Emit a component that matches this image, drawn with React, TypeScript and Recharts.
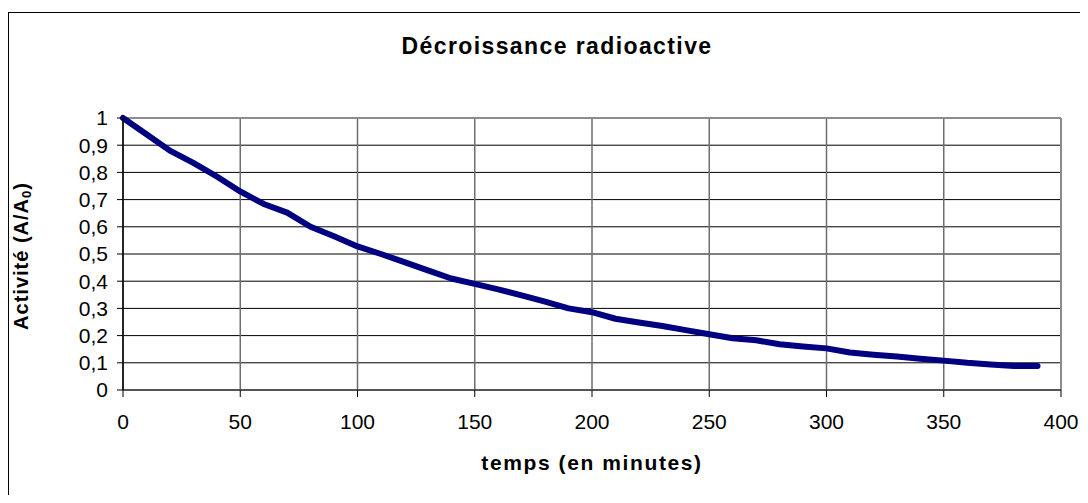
import React from "react"
import {
  CartesianGrid,
  Label,
  Line,
  LineChart,
  ReferenceLine,
  XAxis,
  YAxis,
} from "recharts"

const FONT = "'Liberation Sans', Arial, sans-serif"

// temps en minutes
const TIMES = [
  0, 10, 20, 30, 40, 50, 60, 70, 80, 90, 100, 110, 120, 130, 140, 150, 160, 170, 180, 190, 200,
  210, 220, 230, 240, 250, 260, 270, 280, 290, 300, 310, 320, 330, 340, 350, 360, 370, 380, 390,
]
// activité relative A/A0
const ACTIVITY = [
  1.0, 0.94, 0.88, 0.835, 0.785, 0.73, 0.684, 0.652, 0.6, 0.565, 0.528, 0.5, 0.47, 0.44, 0.41,
  0.39, 0.37, 0.348, 0.325, 0.3, 0.286, 0.262, 0.248, 0.235, 0.22, 0.205, 0.19, 0.183, 0.168,
  0.16, 0.153, 0.138, 0.13, 0.123, 0.115, 0.108, 0.1, 0.094, 0.088, 0.088,
]
const X_TICKS = [0, 50, 100, 150, 200, 250, 300, 350, 400]
const Y_TICKS = [0, 0.1, 0.2, 0.3, 0.4, 0.5, 0.6, 0.7, 0.8, 0.9, 1]

const data = TIMES.map((t, i) => ({ t, a: ACTIVITY[i] }))

// "0.3" -> "0,3"
const frNumber = (v: number) => String(Math.round(v * 10) / 10).replace(".", ",")

function YTitle(props: any) {
  const vb = props.viewBox
  const cx = 13
  const cy = vb && vb.height ? vb.y + vb.height / 2 + 2 : 255
  return (
    <text
      x={cx}
      y={cy}
      transform={`rotate(-90 ${cx} ${cy})`}
      textAnchor="middle"
      dominantBaseline="central"
      fontFamily={FONT}
      fontWeight="bold"
      fontSize={20}
      letterSpacing={1}
      fill="#000"
    >
      Activité (A/A
      <tspan fontSize={13} dy={5}>
        0
      </tspan>
      <tspan dy={-5}>)</tspan>
    </text>
  )
}

export default function App() {
  return (
    <div
      style={{
        position: "relative",
        marginTop: 4,
        width: 1080,
        height: 483,
        borderTop: "1px solid #000",
        borderLeft: "1px solid #000",
        boxSizing: "border-box",
        background: "#fff",
      }}
    >
      <div
        style={{
          position: "absolute",
          left: 0,
          width: 1096,
          top: 20,
          textAlign: "center",
          fontFamily: FONT,
          fontWeight: "bold",
          fontSize: 23,
          letterSpacing: 1.4,
        }}
      >
        Décroissance radioactive
      </div>
      <div style={{ position: "absolute", left: -1, top: -1 }}>
        <LineChart
          width={1080}
          height={483}
          data={data}
          margin={{ top: 106, right: 27, bottom: 0, left: 0 }}
        >
          <CartesianGrid vertical={false} stroke="#000" strokeWidth={1} />
          <CartesianGrid horizontal={false} stroke="#6e6e6e" strokeWidth={1.5} />
          <ReferenceLine y={1} stroke="#8c8c8c" strokeWidth={2} />
          <ReferenceLine x={400} stroke="#8c8c8c" strokeWidth={2} />
          <XAxis
            dataKey="t"
            type="number"
            domain={[0, 400]}
            ticks={X_TICKS}
            interval={0}
            height={105}
            tickSize={7}
            tickMargin={17}
            axisLine={{ stroke: "#555", strokeWidth: 2 }}
            tickLine={{ stroke: "#000" }}
            tick={{ fill: "#000", fontSize: 21, fontFamily: FONT }}
          >
            <Label
              value="temps (en minutes)"
              position="insideTop"
              offset={65}
              style={{
                fontFamily: FONT,
                fontWeight: "bold",
                fontSize: 21,
                letterSpacing: 1.6,
                fill: "#000",
              }}
            />
          </XAxis>
          <YAxis
            type="number"
            domain={[0, 1]}
            ticks={Y_TICKS}
            interval={0}
            width={115}
            tickSize={6}
            tickMargin={9}
            tickFormatter={frNumber}
            axisLine={{ stroke: "#000", strokeWidth: 1.5 }}
            tickLine={{ stroke: "#000" }}
            tick={{ fill: "#000", fontSize: 21, fontFamily: FONT }}
          >
            <Label content={YTitle} />
          </YAxis>
          <Line
            type="linear"
            dataKey="a"
            stroke="#000080"
            strokeWidth={6}
            strokeLinecap="round"
            strokeLinejoin="round"
            dot={false}
            activeDot={false}
            isAnimationActive={false}
          />
        </LineChart>
      </div>
    </div>
  )
}
